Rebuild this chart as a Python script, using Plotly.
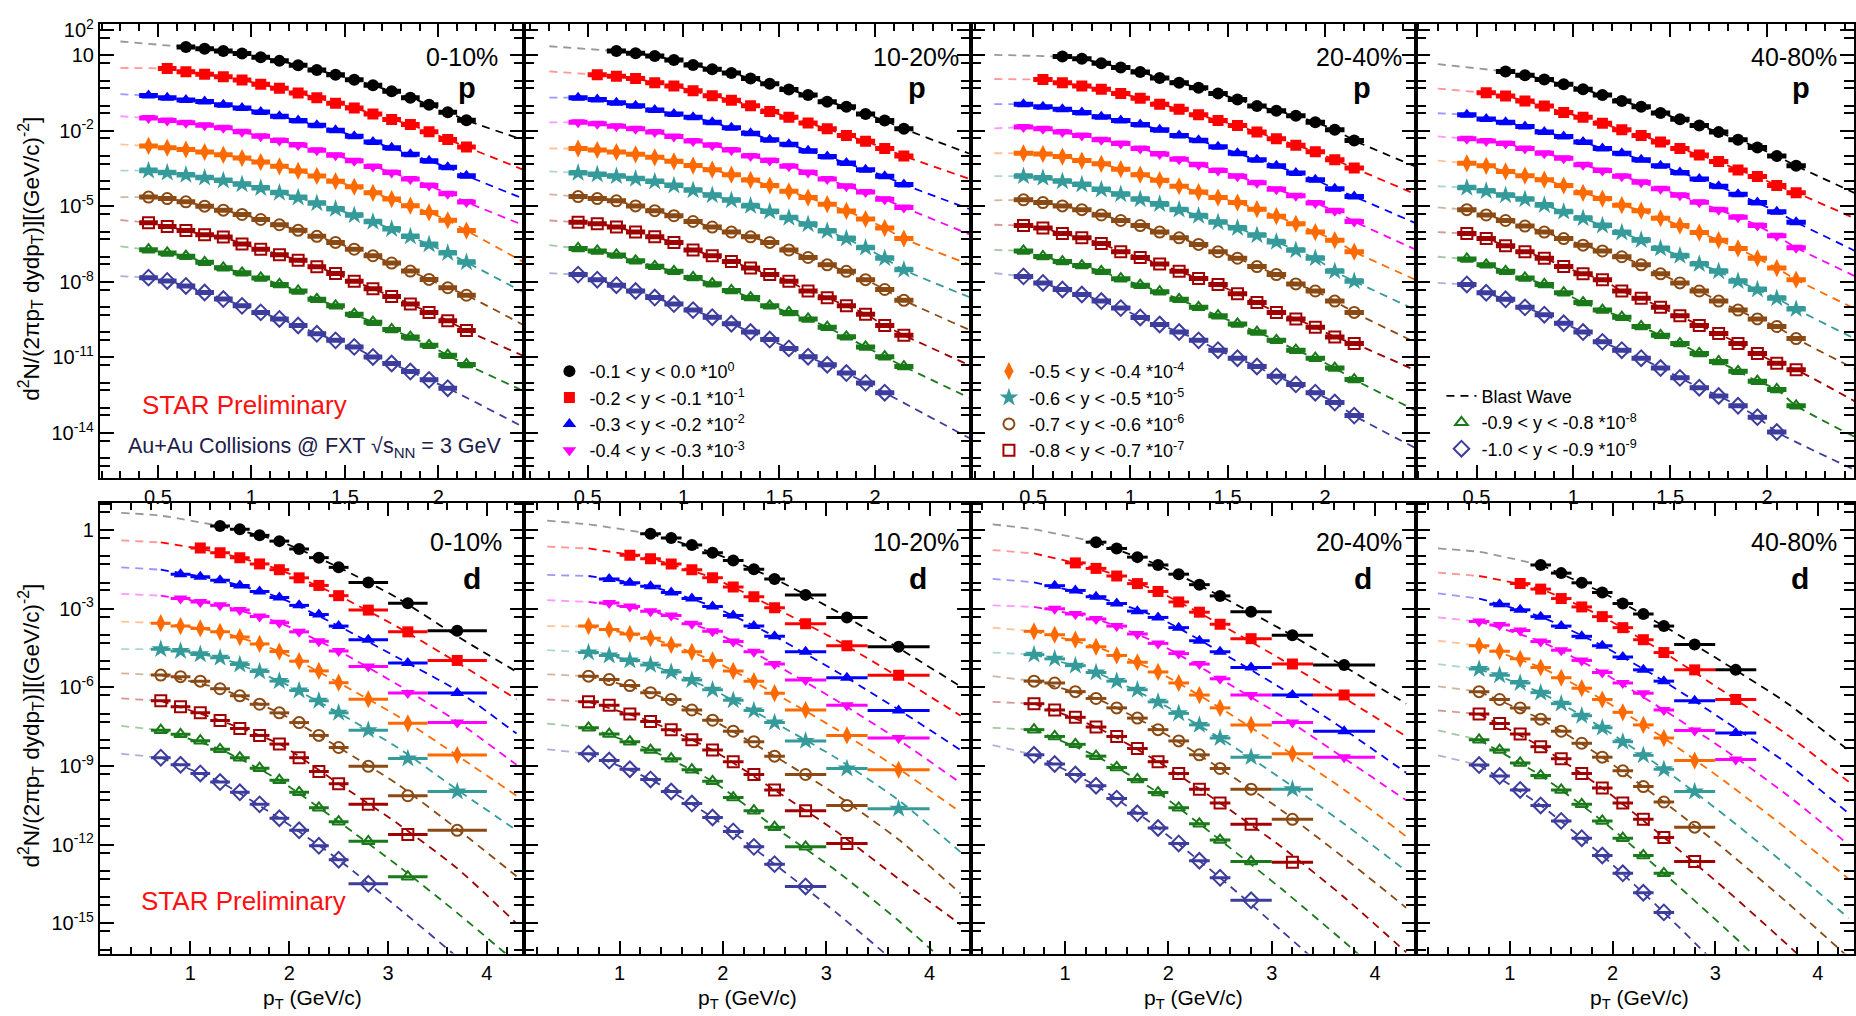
import plotly.graph_objects as go

# ---------------------------------------------------------------- series
SERIES_LABEL = ["-0.1 < y < 0.0", "-0.2 < y < -0.1", "-0.3 < y < -0.2", "-0.4 < y < -0.3",
                "-0.5 < y < -0.4", "-0.6 < y < -0.5", "-0.7 < y < -0.6", "-0.8 < y < -0.7",
                "-0.9 < y < -0.8", "-1.0 < y < -0.9"]
SCALE_EXP = [0, -1, -2, -3, -4, -5, -6, -7, -8, -9]
COLORS = ["#000000", "#ff0000", "#0000ff", "#ff00ff", "#ff6a00", "#359a9a",
          "#8b4a14", "#a00000", "#1a7a1a", "#3d3d9e"]
SYMBOLS = ["circle", "square", "triangle-up", "triangle-down", "diamond-tall", "star",
           "circle-open", "square-open", "triangle-up-open", "diamond-open"]
SIZES = [12, 11, 12, 12, 13, 14, 11, 11, 11, 12]
LEGEND_OF = ["legend", "legend", "legend", "legend", "legend2", "legend2",
             "legend2", "legend2", "legend3", "legend3"]

# ---------------------------------------------------------------- proton bins
P_PT = [0.45, 0.55, 0.65, 0.75, 0.85, 0.95, 1.05, 1.15, 1.25, 1.35, 1.45, 1.55,
        1.65, 1.75, 1.85, 1.95, 2.05, 2.15]
P_HALF = 0.05
P_START = [2, 1, 0, 0, 0, 0, 0, 0, 0, 0]
P_BW_EDGE_PT = [0.3, 2.49]

# log10 of plotted (already scaled) invariant yield, one list per rapidity slice
P_0_10_LOG = [
    [1.33, 1.26, 1.17, 1.07, 0.92, 0.78, 0.61, 0.42, 0.23, 0.03, -0.19, -0.43, -0.68, -0.96, -1.26, -1.58],
    [0.48, 0.35, 0.25, 0.15, 0.02, -0.15, -0.31, -0.50, -0.68, -0.90, -1.09, -1.33, -1.55, -1.75, -2.04, -2.34, -2.64],
    [-0.60, -0.68, -0.77, -0.83, -0.96, -1.09, -1.25, -1.42, -1.59, -1.78, -1.98, -2.21, -2.44, -2.67, -2.93, -3.19, -3.45, -3.78],
    [-1.49, -1.59, -1.68, -1.78, -1.88, -2.04, -2.21, -2.38, -2.56, -2.77, -2.97, -3.19, -3.42, -3.65, -3.91, -4.17, -4.50, -4.83],
    [-2.60, -2.67, -2.74, -2.84, -2.95, -3.08, -3.24, -3.41, -3.59, -3.79, -4.00, -4.22, -4.46, -4.71, -4.97, -5.24, -5.55, -5.96],
    [-3.58, -3.66, -3.75, -3.86, -3.97, -4.12, -4.27, -4.46, -4.65, -4.88, -5.10, -5.35, -5.61, -5.90, -6.20, -6.51, -6.85, -7.22],
    [-4.63, -4.69, -4.82, -4.99, -5.15, -5.32, -5.52, -5.73, -5.95, -6.19, -6.43, -6.70, -6.96, -7.25, -7.57, -7.90, -8.23, -8.53],
    [-5.65, -5.80, -5.96, -6.13, -6.22, -6.49, -6.70, -6.92, -7.14, -7.40, -7.67, -7.97, -8.27, -8.58, -8.88, -9.21, -9.54, -9.93],
    [-6.72, -6.85, -6.98, -7.22, -7.44, -7.64, -7.84, -8.10, -8.36, -8.69, -8.95, -9.28, -9.60, -9.89, -10.19, -10.52, -10.91, -11.28],
    [-7.83, -7.96, -8.16, -8.42, -8.68, -8.95, -9.21, -9.47, -9.73, -10.06, -10.32, -10.58, -10.98, -11.24, -11.56, -11.89, -12.22],
]
P_10_20_LOG = [
    [1.17, 1.08, 0.97, 0.81, 0.62, 0.45, 0.30, 0.08, -0.13, -0.36, -0.58, -0.84, -1.04, -1.33, -1.59, -1.92],
    [0.23, 0.17, 0.08, -0.09, -0.22, -0.41, -0.61, -0.78, -1.00, -1.23, -1.46, -1.69, -1.92, -2.18, -2.41, -2.70, -3.00],
    [-0.68, -0.75, -0.88, -1.00, -1.17, -1.33, -1.46, -1.66, -1.88, -2.09, -2.35, -2.53, -2.79, -3.02, -3.28, -3.54, -3.80, -4.13],
    [-1.66, -1.72, -1.82, -1.92, -2.05, -2.22, -2.40, -2.57, -2.76, -3.00, -3.18, -3.41, -3.65, -3.91, -4.20, -4.43, -4.72, -5.04],
    [-2.70, -2.76, -2.84, -2.93, -3.05, -3.21, -3.38, -3.54, -3.74, -3.95, -4.17, -4.40, -4.65, -4.91, -5.18, -5.50, -5.86, -6.28],
    [-3.67, -3.73, -3.80, -3.90, -4.01, -4.17, -4.36, -4.56, -4.76, -4.98, -5.20, -5.45, -5.71, -5.98, -6.28, -6.64, -7.06, -7.52],
    [-4.61, -4.69, -4.78, -4.98, -5.17, -5.37, -5.60, -5.82, -6.02, -6.21, -6.43, -6.73, -7.03, -7.32, -7.58, -7.91, -8.30, -8.73],
    [-5.63, -5.69, -5.82, -6.02, -6.21, -6.43, -6.73, -6.96, -7.19, -7.45, -7.71, -7.97, -8.36, -8.63, -8.95, -9.28, -9.73, -10.12],
    [-6.67, -6.77, -6.93, -7.16, -7.38, -7.58, -7.82, -8.07, -8.34, -8.62, -8.95, -9.21, -9.47, -9.80, -10.18, -10.58, -10.97, -11.36],
    [-7.71, -7.91, -8.13, -8.36, -8.62, -8.88, -9.12, -9.40, -9.66, -9.99, -10.29, -10.64, -10.97, -11.29, -11.62, -12.01, -12.40],
]
P_20_40_LOG = [
    [0.95, 0.86, 0.69, 0.52, 0.34, 0.10, -0.09, -0.29, -0.52, -0.75, -1.01, -1.20, -1.40, -1.66, -1.96, -2.38],
    [0.04, -0.09, -0.22, -0.35, -0.52, -0.70, -0.94, -1.14, -1.36, -1.59, -1.79, -2.05, -2.31, -2.57, -2.83, -3.15, -3.48],
    [-0.94, -1.04, -1.14, -1.27, -1.44, -1.59, -1.75, -1.96, -2.18, -2.37, -2.63, -2.89, -3.15, -3.39, -3.67, -3.94, -4.30, -4.61],
    [-1.85, -1.92, -2.05, -2.18, -2.35, -2.50, -2.70, -2.92, -3.13, -3.35, -3.57, -3.80, -4.06, -4.32, -4.58, -4.87, -5.17, -5.60],
    [-2.89, -2.92, -3.02, -3.18, -3.31, -3.52, -3.74, -3.96, -4.20, -4.43, -4.65, -4.85, -5.11, -5.39, -5.69, -6.02, -6.34, -6.80],
    [-3.80, -3.87, -4.00, -4.13, -4.33, -4.52, -4.72, -4.91, -5.13, -5.37, -5.63, -5.86, -6.15, -6.41, -6.74, -7.06, -7.58, -7.97],
    [-4.74, -4.85, -4.98, -5.13, -5.34, -5.56, -5.76, -6.02, -6.25, -6.51, -6.80, -7.06, -7.39, -7.71, -8.08, -8.36, -8.76, -9.21],
    [-5.76, -5.86, -6.08, -6.25, -6.47, -6.80, -7.03, -7.29, -7.58, -7.86, -8.10, -8.47, -8.82, -9.21, -9.47, -9.80, -10.19, -10.45],
    [-6.77, -6.99, -7.19, -7.35, -7.58, -7.87, -8.13, -8.39, -8.69, -9.01, -9.34, -9.67, -9.99, -10.32, -10.71, -11.03, -11.42, -11.88],
    [-7.78, -8.04, -8.30, -8.50, -8.76, -9.04, -9.41, -9.69, -9.99, -10.32, -10.71, -11.03, -11.36, -11.75, -12.07, -12.40, -12.79, -13.31],
]
P_40_80_LOG = [
    [0.36, 0.21, 0.04, -0.15, -0.35, -0.58, -0.81, -1.04, -1.29, -1.54, -1.79, -2.05, -2.35, -2.66, -3.00, -3.39],
    [-0.49, -0.62, -0.81, -1.01, -1.27, -1.46, -1.70, -1.96, -2.18, -2.44, -2.70, -2.96, -3.22, -3.55, -3.81, -4.17, -4.46],
    [-1.36, -1.53, -1.66, -1.83, -2.05, -2.22, -2.44, -2.70, -2.89, -3.15, -3.39, -3.65, -3.91, -4.20, -4.52, -4.85, -5.21, -5.63],
    [-2.31, -2.40, -2.50, -2.70, -2.89, -3.09, -3.35, -3.57, -3.80, -4.04, -4.30, -4.56, -4.84, -5.13, -5.43, -5.76, -6.17, -6.64],
    [-3.29, -3.39, -3.61, -3.78, -3.94, -4.17, -4.46, -4.69, -4.95, -5.17, -5.47, -5.76, -6.04, -6.34, -6.67, -7.06, -7.45, -7.91],
    [-4.26, -4.39, -4.56, -4.72, -4.95, -5.21, -5.47, -5.76, -6.04, -6.34, -6.67, -6.96, -7.29, -7.58, -7.97, -8.30, -8.65, -9.08],
    [-5.13, -5.34, -5.56, -5.78, -6.02, -6.28, -6.54, -6.77, -7.00, -7.32, -7.68, -8.04, -8.36, -8.76, -9.12, -9.47, -9.77, -10.25],
    [-6.08, -6.28, -6.56, -6.80, -7.06, -7.39, -7.68, -7.91, -8.36, -8.65, -9.01, -9.34, -9.73, -10.05, -10.45, -10.84, -11.23, -11.49],
    [-7.09, -7.32, -7.58, -7.84, -8.10, -8.43, -8.82, -9.12, -9.40, -9.77, -10.12, -10.45, -10.84, -11.16, -11.55, -11.94, -12.27, -12.92],
    [-8.10, -8.43, -8.69, -9.01, -9.30, -9.64, -9.99, -10.38, -10.71, -11.03, -11.42, -11.81, -12.20, -12.53, -12.92, -13.37, -13.96],
]
# blast-wave curve ends (log10) at P_BW_EDGE_PT, the curve follows the data in between
P_0_10_BW = [[1.55, -2.45], [0.50, -3.65], [-0.54, -4.8], [-1.42, -5.85], [-2.54, -7.35],
             [-3.58, -8.55], [-4.63, -9.85], [-5.54, -11.05], [-6.59, -12.45], [-7.77, -13.9]]
P_10_20_BW = [[1.36, -2.9], [0.36, -3.9], [-0.68, -5.1], [-1.66, -6.1], [-2.70, -7.3],
              [-3.61, -8.6], [-4.52, -9.9], [-5.56, -11.3], [-6.54, -12.6], [-7.65, -14.2]]
P_20_40_BW = [[1.02, -3.5], [0.06, -4.6], [-0.94, -5.75], [-1.90, -6.8], [-2.89, -8.0],
              [-3.80, -9.2], [-4.76, -10.5], [-5.73, -11.6], [-6.73, -13.2], [-7.65, -14.7]]
P_40_80_BW = [[0.65, -4.6], [-0.32, -5.6], [-1.30, -6.9], [-2.22, -7.9], [-3.18, -9.2],
              [-4.20, -10.4], [-5.04, -11.6], [-6.02, -12.9], [-7.00, -14.3], [-8.04, -15.6]]

# ---------------------------------------------------------------- deuteron bins
D_PT = [0.7, 0.9, 1.1, 1.3, 1.5, 1.7, 1.9, 2.1, 2.3, 2.5, 2.8, 3.2, 3.7]
D_HALF = [0.1, 0.1, 0.1, 0.1, 0.1, 0.1, 0.1, 0.1, 0.1, 0.1, 0.2, 0.2, 0.3]
D_START = [3, 2, 1, 1, 0, 0, 0, 0, 0, 0]
D_START_40_80 = [3, 2, 1, 0, 0, 0, 0, 0, 0, 0]
D_BW_PT = [0.3, 0.7, 1.3, 1.9, 2.5, 3.1, 3.7, 4.3]

D_0_10_LOG = [
    [0.16, 0.03, -0.20, -0.42, -0.72, -1.05, -1.42, -2.00, -2.79, -3.84],
    [-0.68, -0.86, -1.05, -1.29, -1.51, -1.82, -2.11, -2.50, -3.05, -3.88, -4.97],
    [-1.68, -1.78, -1.91, -2.11, -2.34, -2.57, -2.87, -3.22, -3.66, -4.18, -5.07, -6.21],
    [-2.61, -2.74, -2.87, -3.05, -3.29, -3.53, -3.88, -4.24, -4.61, -5.20, -6.21, -7.34],
    [-3.55, -3.66, -3.75, -3.88, -4.08, -4.34, -4.63, -5.00, -5.37, -5.82, -6.45, -7.37, -8.58],
    [-4.54, -4.61, -4.74, -4.87, -5.13, -5.39, -5.76, -6.12, -6.51, -6.97, -7.63, -8.71, -9.97],
    [-5.53, -5.59, -5.76, -6.05, -6.32, -6.64, -6.97, -7.34, -7.83, -8.29, -9.01, -10.13, -11.45],
    [-6.51, -6.74, -6.97, -7.26, -7.57, -7.83, -8.16, -8.68, -9.21, -9.67, -10.46, -11.61],
    [-7.63, -7.79, -8.03, -8.36, -8.68, -9.08, -9.54, -10.00, -10.59, -11.12, -11.87, -13.22],
    [-8.68, -8.95, -9.28, -9.61, -10.00, -10.46, -10.99, -11.45, -12.04, -12.57, -13.49],
]
D_10_20_LOG = [
    [-0.14, -0.30, -0.57, -0.86, -1.16, -1.49, -1.86, -2.47, -3.33, -4.45],
    [-0.96, -1.09, -1.29, -1.51, -1.82, -2.17, -2.54, -2.96, -3.57, -4.41, -5.54],
    [-1.86, -2.01, -2.14, -2.38, -2.61, -2.91, -3.26, -3.66, -4.05, -4.64, -5.63, -6.88],
    [-2.78, -2.91, -3.09, -3.26, -3.57, -3.86, -4.25, -4.64, -5.11, -5.72, -6.68, -7.93],
    [-3.66, -3.79, -3.96, -4.12, -4.38, -4.64, -4.97, -5.37, -5.76, -6.22, -6.86, -7.83, -9.14],
    [-4.67, -4.78, -4.97, -5.14, -5.41, -5.72, -6.09, -6.49, -6.88, -7.34, -8.04, -9.09, -10.63],
    [-5.57, -5.70, -5.93, -6.20, -6.46, -6.86, -7.25, -7.67, -8.07, -8.62, -9.32, -10.50],
    [-6.55, -6.68, -7.01, -7.30, -7.61, -8.00, -8.39, -8.83, -9.32, -9.91, -10.70, -11.95],
    [-7.54, -7.78, -8.07, -8.39, -8.72, -9.14, -9.58, -10.20, -10.70, -11.33, -12.08],
    [-8.53, -8.79, -9.12, -9.51, -9.97, -10.43, -10.96, -11.49, -12.08, -12.74, -13.59],
]
D_20_40_LOG = [
    [-0.46, -0.70, -1.03, -1.33, -1.68, -2.08, -2.51, -3.11, -4.01, -5.14],
    [-1.25, -1.46, -1.75, -2.04, -2.34, -2.74, -3.13, -3.59, -4.14, -5.11, -6.29],
    [-2.12, -2.30, -2.54, -2.80, -3.09, -3.33, -3.72, -4.22, -4.64, -5.24, -6.29, -7.67],
    [-3.00, -3.20, -3.39, -3.66, -3.96, -4.32, -4.71, -5.11, -5.67, -6.29, -7.34, -8.66],
    [-3.86, -3.99, -4.18, -4.45, -4.78, -5.04, -5.41, -5.83, -6.29, -6.78, -7.43, -8.53],
    [-4.75, -4.91, -5.17, -5.43, -5.76, -6.09, -6.55, -6.99, -7.43, -7.93, -8.66, -9.88],
    [-5.76, -5.83, -6.16, -6.42, -6.78, -7.17, -7.61, -8.04, -8.57, -9.09, -9.88, -11.03],
    [-6.62, -6.86, -7.14, -7.51, -7.87, -8.33, -8.83, -9.28, -9.88, -10.41, -11.22, -12.67],
    [-7.61, -7.87, -8.17, -8.62, -9.05, -9.51, -10.01, -10.59, -11.20, -11.82, -12.64],
    [-8.57, -8.92, -9.32, -9.75, -10.24, -10.80, -11.36, -11.95, -12.61, -13.26, -14.12],
]
D_40_80_LOG = [
    [-1.33, -1.64, -2.01, -2.38, -2.80, -3.20, -3.66, -4.36, -5.33],
    [-2.04, -2.25, -2.61, -2.93, -3.30, -3.72, -4.18, -4.67, -5.33, -6.46],
    [-2.83, -3.04, -3.30, -3.66, -4.05, -4.41, -4.84, -5.33, -5.76, -6.51, -7.74],
    [-3.49, -3.62, -3.83, -4.25, -4.58, -4.97, -5.43, -5.83, -6.22, -6.86, -7.64, -8.75],
    [-4.41, -4.62, -4.91, -5.24, -5.63, -6.03, -6.46, -6.95, -7.43, -7.93, -8.79],
    [-5.30, -5.54, -5.83, -6.20, -6.62, -7.08, -7.54, -8.07, -8.59, -9.12, -9.97],
    [-6.16, -6.46, -6.78, -7.21, -7.67, -8.13, -8.66, -9.18, -9.78, -10.37, -11.33],
    [-7.01, -7.38, -7.78, -8.26, -8.72, -9.28, -9.84, -10.41, -11.03, -11.72, -12.64],
    [-8.00, -8.39, -8.88, -9.36, -9.91, -10.46, -11.09, -11.75, -12.41, -13.09],
    [-8.96, -9.38, -9.91, -10.50, -11.09, -11.75, -12.41, -13.09, -13.83, -14.58],
]
# blast-wave curves (log10) at D_BW_PT
D_0_10_BW = [
    [0.66, 0.55, 0.16, -0.42, -1.42, -2.6, -4.05, -5.4],
    [-0.39, -0.47, -0.86, -1.51, -2.50, -3.7, -5.05, -6.45],
    [-1.42, -1.51, -1.91, -2.57, -3.66, -4.87, -6.12, -7.76],
    [-2.43, -2.50, -2.87, -3.53, -4.61, -5.9, -7.3, -8.95],
    [-3.49, -3.55, -3.88, -4.63, -5.82, -7.1, -8.6, -10.13],
    [-4.54, -4.54, -4.87, -5.76, -6.97, -8.3, -9.9, -11.45],
    [-5.46, -5.53, -6.05, -6.97, -8.29, -9.7, -11.4, -13.2],
    [-6.42, -6.51, -7.26, -8.16, -9.67, -11.2, -12.9, -15.0],
    [-7.47, -7.63, -8.36, -9.54, -11.12, -12.8, -14.6, -16.5],
    [-8.53, -8.68, -9.61, -10.99, -12.57, -14.4, -16.3, -18.5],
]
D_10_20_BW = [
    [0.36, 0.22, -0.14, -0.86, -1.86, -3.1, -4.5, -5.96],
    [-0.63, -0.70, -1.09, -1.82, -2.96, -4.2, -5.6, -7.08],
    [-1.71, -1.75, -2.14, -2.91, -4.05, -5.4, -6.85, -8.39],
    [-2.67, -2.74, -3.09, -3.86, -5.11, -6.5, -8.0, -9.64],
    [-3.66, -3.68, -4.12, -4.97, -6.22, -7.6, -9.1, -10.76],
    [-4.58, -4.66, -5.14, -6.09, -7.34, -8.7, -10.3, -12.28],
    [-5.50, -5.57, -6.20, -7.25, -8.62, -10.1, -11.8, -13.86],
    [-6.46, -6.55, -7.30, -8.39, -9.91, -11.5, -13.3, -15.04],
    [-7.38, -7.54, -8.39, -9.58, -11.33, -13.0, -14.9, -17.0],
    [-8.36, -8.53, -9.51, -10.96, -12.74, -14.6, -16.6, -18.8],
]
D_20_40_BW = [
    [0.22, 0.03, -0.46, -1.33, -2.51, -3.8, -5.2, -6.62],
    [-0.76, -0.89, -1.46, -2.34, -3.59, -4.95, -6.4, -7.87],
    [-1.86, -1.99, -2.54, -3.33, -4.64, -6.05, -7.6, -9.25],
    [-2.87, -2.93, -3.39, -4.32, -5.67, -7.1, -8.7, -10.3],
    [-3.72, -3.86, -4.45, -5.41, -6.78, -8.3, -9.9, -11.68],
    [-4.67, -4.75, -5.43, -6.55, -7.93, -9.5, -11.2, -13.0],
    [-5.57, -5.76, -6.42, -7.61, -9.09, -10.7, -12.5, -14.4],
    [-6.55, -6.62, -7.51, -8.83, -10.41, -12.1, -14.0, -16.1],
    [-7.54, -7.61, -8.62, -10.01, -11.82, -13.7, -15.7, -17.8],
    [-8.20, -8.57, -9.75, -11.36, -13.26, -15.3, -17.4, -19.6],
]
D_40_80_BW = [
    [-0.70, -0.83, -1.33, -2.38, -3.66, -5.1, -6.6, -8.4],
    [-1.62, -1.75, -2.25, -3.30, -4.67, -6.2, -7.8, -9.6],
    [-2.41, -2.61, -3.30, -4.41, -5.76, -7.3, -8.9, -10.8],
    [-3.33, -3.49, -4.25, -5.43, -6.86, -8.4, -10.1, -12.0],
    [-4.22, -4.41, -5.24, -6.46, -7.93, -9.6, -11.4, -13.3],
    [-5.11, -5.30, -6.20, -7.54, -9.12, -10.9, -12.8, -14.8],
    [-5.96, -6.16, -7.21, -8.66, -10.37, -12.2, -14.2, -16.3],
    [-6.88, -7.01, -8.26, -9.84, -11.72, -13.7, -15.8, -18.0],
    [-7.64, -8.00, -9.36, -11.09, -13.09, -15.2, -17.4, -19.7],
    [-8.59, -8.96, -10.50, -12.41, -14.58, -16.9, -19.2, -21.6],
]

CENTRALITY = ["0-10%", "10-20%", "20-40%", "40-80%"]

# ---------------------------------------------------------------- layout geometry (pixels)
W, H = 1856, 1016
FONT = "Liberation Sans, Arial, Helvetica, sans-serif"
COL_EDGES = [100, 525, 972, 1418, 1864]
ROWS = [(15.5, 473), (498, 953)]
X_RANGES = [[[0.19, 2.46], [0.17, 2.50], [0.18, 2.47], [0.19, 2.49]],
            [[0.084, 4.38], [0.08, 4.40], [0.09, 4.40], [0.09, 4.43]]]
Y_RANGE = [[-15.78, 2.23], [-16.15, 1.05]]


def fx(p):
    return p / W


def fy(p):
    return 1 - p / H


fig = go.Figure()
panels = []
for c, (plog, pbw) in enumerate(zip([P_0_10_LOG, P_10_20_LOG, P_20_40_LOG, P_40_80_LOG],
                                    [P_0_10_BW, P_10_20_BW, P_20_40_BW, P_40_80_BW])):
    panels.append(("p", 0, c, plog, pbw, P_START))
for c, (dlog, dbw, dst) in enumerate(zip([D_0_10_LOG, D_10_20_LOG, D_20_40_LOG, D_40_80_LOG],
                                         [D_0_10_BW, D_10_20_BW, D_20_40_BW, D_40_80_BW],
                                         [D_START, D_START, D_START, D_START_40_80])):
    panels.append(("d", 1, c, dlog, dbw, dst))


def add_line(xs, ys, col, xa, ya, opacity, legend_on):
    fig.add_trace(go.Scatter(
        x=xs, y=ys, mode="lines", xaxis=xa, yaxis=ya, opacity=opacity,
        line=dict(color=col, width=1.8, dash="8px,6px", shape="spline", smoothing=0.6),
        name="Blast Wave", showlegend=legend_on, legend="legend3", legendrank=1,
        hoverinfo="skip"))


layout_axes = {}
for k, (species, r, c, logs, bws, starts) in enumerate(panels):
    n = k + 1
    xa = "x" if n == 1 else f"x{n}"
    ya = "y" if n == 1 else f"y{n}"
    for j in range(10):
        col = COLORS[j]
        vals = logs[j]
        s = starts[j]
        if species == "p":
            xs = P_PT[s:s + len(vals)]
            half = [P_HALF] * len(vals)
            thick = 5
        else:
            xs = D_PT[s:s + len(vals)]
            half = D_HALF[s:s + len(vals)]
            thick = 3
        ys = [10 ** v for v in vals]
        is_open = SYMBOLS[j].endswith("open")
        # blast wave: lighter outside the fitted range (below the first data point)
        if species == "p":
            add_line([P_BW_EDGE_PT[0], xs[0]], [10 ** bws[j][0], ys[0]], col, xa, ya, 0.4, False)
            add_line(xs + [P_BW_EDGE_PT[1]], ys + [10 ** bws[j][1]], col, xa, ya, 1.0,
                     k == 0 and j == 0)
        else:
            by = [10 ** v for v in bws[j]]
            split = max(i for i, p in enumerate(D_BW_PT) if p <= xs[0] + 1e-9)
            if split > 0:
                add_line(D_BW_PT[:split + 1], by[:split + 1], col, xa, ya, 0.4, False)
            add_line(D_BW_PT[split:], by[split:], col, xa, ya, 1.0, False)
        fig.add_trace(go.Scatter(
            x=xs, y=ys, mode="markers", xaxis=xa, yaxis=ya,
            marker=dict(symbol=SYMBOLS[j], size=SIZES[j], color=col,
                        line=dict(color=col, width=2 if is_open else 0)),
            error_x=dict(type="data", array=half, color=col, thickness=thick, width=0),
            name=f"{SERIES_LABEL[j]} *10<sup>{SCALE_EXP[j]}</sup>",
            showlegend=(k == 0), legend=LEGEND_OF[j], legendrank=10 + j))

    # axes
    x0, x1 = COL_EDGES[c], COL_EDGES[c + 1]
    vis_x1 = min(x1, W)
    lo, hi = X_RANGES[r][c]
    hi_vis = lo + (hi - lo) * (vis_x1 - x0) / (x1 - x0)
    top, bot = ROWS[r]
    if r == 0:
        xt = [0.5, 1, 1.5, 2]
        xtt = ["0.5", "1", "1.5", "2"]
        xminor = [v / 10 for v in range(2, 25) if v not in (5, 10, 15, 20)]
        ylab = {2: "10<sup>2</sup>", 1: "10", -2: "10<sup>-2</sup>", -5: "10<sup>-5</sup>",
                -8: "10<sup>-8</sup>", -11: "10<sup>-11</sup>", -14: "10<sup>-14</sup>"}
        ydec = list(range(-16, 3))
    else:
        xt = [1, 2, 3, 4]
        xtt = ["1", "2", "3", "4"]
        xminor = [v / 10 for v in range(2, 44, 2) if v not in (10, 20, 30, 40)]
        ylab = {0: "1", -3: "10<sup>-3</sup>", -6: "10<sup>-6</sup>", -9: "10<sup>-9</sup>",
                -12: "10<sup>-12</sup>", -15: "10<sup>-15</sup>"}
        ydec = list(range(-17, 2))
    ymajor = [d for d in ydec if d in ylab]
    yminor = [10 ** d for d in ydec if d not in ylab] + [5 * 10 ** (d - 1) for d in ydec]
    common = dict(showline=True, linecolor="black", linewidth=2, mirror="allticks",
                  ticks="inside", tickcolor="black", tickwidth=1.5, showgrid=False,
                  zeroline=False, tickfont=dict(family=FONT, size=20, color="black"))
    layout_axes["xaxis" if n == 1 else f"xaxis{n}"] = dict(
        domain=[fx(x0), fx(vis_x1)], range=[lo, hi_vis], anchor=ya,
        tickmode="array", tickvals=xt, ticktext=xtt, ticklen=13,
        minor=dict(tickmode="array", tickvals=xminor, ticks="inside", ticklen=7,
                   tickwidth=1.5, tickcolor="black"),
        **common)
    layout_axes["yaxis" if n == 1 else f"yaxis{n}"] = dict(
        domain=[fy(bot), fy(top)], range=Y_RANGE[r], type="log", anchor=xa,
        tickmode="array", tickvals=[10 ** d for d in ymajor],
        ticktext=[ylab[d] for d in ymajor], ticklen=14,
        showticklabels=(c == 0),
        minor=dict(tickmode="array", tickvals=yminor,
                   ticks="inside", ticklen=10, tickwidth=1.5, tickcolor="black"),
        **common)

ann = []
cent_right = [501, 962, 1406, 1841]
spec_x = [468, 918, 1363, 1803]
dspec_x = [473, 919, 1364, 1802]
for c in range(4):
    ann.append(dict(x=fx(cent_right[c]), y=fy(48), text=CENTRALITY[c], xanchor="right",
                    yanchor="middle", font=dict(size=25, family=FONT, color="black")))
    ann.append(dict(x=fx(spec_x[c]), y=fy(80), text="<b>p</b>", xanchor="center",
                    yanchor="middle", font=dict(size=29, family=FONT, color="black")))
    ann.append(dict(x=fx(cent_right[c] + (4 if c == 0 else 0)), y=fy(538), text=CENTRALITY[c],
                    xanchor="right", yanchor="middle", font=dict(size=25, family=FONT, color="black")))
    ann.append(dict(x=fx(dspec_x[c]), y=fy(575), text="<b>d</b>", xanchor="center",
                    yanchor="middle", font=dict(size=30, family=FONT, color="black")))
    cx = (COL_EDGES[c] + COL_EDGES[c + 1]) / 2
    ann.append(dict(x=fx(cx), y=fy(999), text="p<sub>T</sub> (GeV/c)", xanchor="center",
                    yanchor="middle", font=dict(size=21, family=FONT, color="black")))
ytitle = "d<sup>2</sup>N/(2πp<sub>T</sub> dydp<sub>T</sub>)][(GeV/c)<sup>-2</sup>]"
for yc in (252, 723):
    ann.append(dict(x=fx(31), y=fy(yc), text=ytitle, textangle=-90, xanchor="center",
                    yanchor="middle", font=dict(size=22.5, family=FONT, color="black")))
ann.append(dict(x=fx(245), y=fy(400), text="STAR Preliminary", xanchor="center", yanchor="middle",
                font=dict(size=26, family=FONT, color="#ff1010")))
ann.append(dict(x=fx(244), y=fy(900), text="STAR Preliminary", xanchor="center", yanchor="middle",
                font=dict(size=26, family=FONT, color="#ff1010")))
ann.append(dict(x=fx(315), y=fy(442), text="Au+Au Collisions @ FXT √s<sub>NN</sub> = 3 GeV",
                xanchor="center", yanchor="middle", font=dict(size=21.5, family=FONT, color="#20204a")))
for a in ann:
    a.update(xref="paper", yref="paper", showarrow=False)

leg_common = dict(bgcolor="rgba(0,0,0,0)", borderwidth=0, xanchor="left", yanchor="top",
                  font=dict(family=FONT, size=18, color="black"), tracegroupgap=0,
                  itemwidth=30)
fig.update_layout(
    width=W, height=H, autosize=False,
    margin=dict(l=0, r=0, t=0, b=0),
    paper_bgcolor="white", plot_bgcolor="white",
    font=dict(family=FONT, color="black"),
    showlegend=True,
    legend=dict(x=fx(550), y=fy(347), **leg_common),
    legend2=dict(x=fx(990), y=fy(347), **leg_common),
    legend3=dict(x=fx(1443), y=fy(372), **leg_common),
    annotations=ann,
    **layout_axes,
)

fig.write_html("out.html", config={"displayModeBar": False},
               post_script="document.body.style.margin='0';document.body.style.overflow='hidden';")
